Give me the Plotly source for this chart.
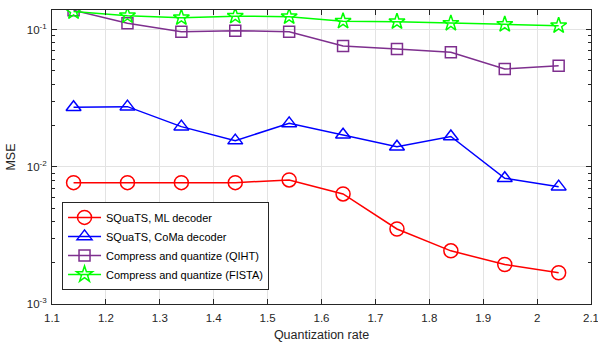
import plotly.graph_objects as go

rates = [1.14, 1.24, 1.34, 1.44, 1.54, 1.64, 1.74, 1.84, 1.94, 2.04]
mse_ml = [0.00766, 0.00766, 0.00766, 0.00766, 0.00802, 0.00634, 0.00352, 0.00244, 0.00194, 0.00169]
mse_coma = [0.0271, 0.0274, 0.0196, 0.0155, 0.0207, 0.0171, 0.0140, 0.0166, 0.00824, 0.00716]
mse_qiht = [0.138, 0.111, 0.0964, 0.098, 0.0964, 0.0758, 0.0721, 0.0682, 0.0515, 0.0545]
mse_fista = [0.135, 0.126, 0.122, 0.125, 0.124, 0.115, 0.114, 0.111, 0.109, 0.1066]

names = ["SQuaTS, ML decoder", "SQuaTS, CoMa decoder",
         "Compress and quantize (QIHT)", "Compress and quantize (FISTA)"]
colors = ["#ff0000", "#0000ff", "#7e2f8e", "#00ff00"]
symbols = ["circle-open", "triangle-up-open", "square-open", "star-open"]
sizes = [14, 13, 11, 12]
series = [mse_ml, mse_coma, mse_qiht, mse_fista]

fig = go.Figure()
for name, vals, c, s, sz in zip(names, series, colors, symbols, sizes):
    fig.add_trace(go.Scatter(
        x=rates, y=vals, name=name, mode="lines+markers",
        line=dict(color=c, width=1.5),
        marker=dict(symbol=s, size=sz, color=c, line=dict(width=1.5, color=c)),
    ))

axcol = "#262626"
fig.update_layout(
    width=598, height=342,
    margin=dict(l=52, r=7, t=10, b=38, autoexpand=False),
    paper_bgcolor="white", plot_bgcolor="white",
    font=dict(family="Liberation Sans, Arial, sans-serif", size=11, color=axcol),
    showlegend=True,
    legend=dict(x=0.0186, y=0.048, xanchor="left", yanchor="bottom",
                bgcolor="white", bordercolor=axcol, borderwidth=1,
                font=dict(size=11, color="#000000"), tracegroupgap=0,
                itemwidth=33),
)
fig.update_xaxes(
    range=[1.1, 2.1], automargin=False, ticklabeloverflow="allow",
    tickvals=[1.1, 1.2, 1.3, 1.4, 1.5, 1.6, 1.7, 1.8, 1.9, 2.0, 2.1],
    ticktext=["1.1", "1.2", "1.3", "1.4", "1.5", "1.6", "1.7", "1.8", "1.9", "2", "2.1"],
    showline=True, linecolor=axcol, linewidth=1, mirror="allticks",
    ticks="inside", ticklen=5, tickcolor=axcol, ticklabelstandoff=3,
    showgrid=True, gridcolor="#e3e3e3", gridwidth=1, zeroline=False,
    title=dict(text="Quantization rate", standoff=11, font=dict(size=12.5)),
    tickfont=dict(size=11.5),
)
fig.update_yaxes(
    type="log", range=[-3, -0.858], automargin=False, ticklabeloverflow="allow",
    tickvals=[1e-3, 1e-2, 1e-1],
    ticktext=["10<sup>-3</sup>", "10<sup>-2</sup>", "10<sup>-1</sup>"],
    showline=True, linecolor=axcol, linewidth=1, mirror="allticks",
    ticks="inside", ticklen=5, tickcolor=axcol, ticklabelstandoff=2,
    minor=dict(ticks="inside", ticklen=3, tickcolor=axcol, showgrid=False,
               tickvals=[k * 10.0 ** e for e in (-3, -2, -1) for k in range(2, 10)]),
    showgrid=True, gridcolor="#e3e3e3", gridwidth=1, zeroline=False,
    title=dict(text="MSE", standoff=8, font=dict(size=12.5)),
    tickfont=dict(size=11.5),
)
fig.write_html("out.html", config={"displayModeBar": False},
               post_script="document.body.style.margin='0';")
